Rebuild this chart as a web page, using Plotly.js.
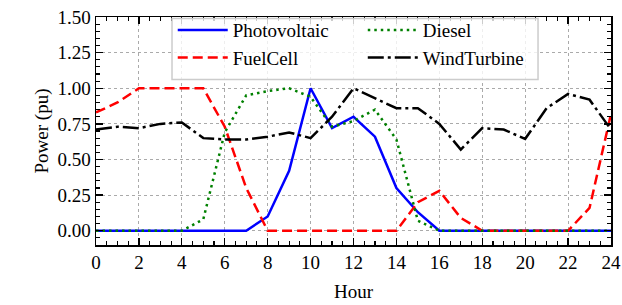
<!DOCTYPE html>
<html>
<head>
<meta charset="utf-8">
<script src="https://cdn.plot.ly/plotly-3.0.1.min.js"></script>
<style>html,body{margin:0;padding:0;background:#fff;}#chart{width:622px;height:305px;}</style>
</head>
<body>
<div id="chart"></div>
<script>
const hours = [0,1,2,3,4,5,6,7,8,9,10,11,12,13,14,15,16,17,18,19,20,21,22,23,24];
const photovoltaic = [0,0,0,0,0,0,0,0,0.1,0.42,1.0,0.72,0.8,0.66,0.3,0.13,0,0,0,0,0,0,0,0,0];
const fuelCell = [0.83,0.9,1.0,1.0,1.0,1.0,0.73,0.3,0,0,0,0,0,0,0,0.2,0.28,0.09,0,0,0,0,0,0.16,0.82];
const diesel = [0,0,0,0,0,0.08,0.69,0.95,0.98,1.0,0.94,0.73,0.77,0.85,0.64,0.07,0,0,0,0,0,0,0,0,0];
const windTurbine = [0.71,0.73,0.72,0.75,0.76,0.65,0.64,0.64,0.66,0.69,0.65,0.8,1.0,0.93,0.86,0.86,0.75,0.57,0.72,0.71,0.645,0.86,0.96,0.92,0.71];

const font = {family: 'Liberation Serif, serif', size: 19, color: '#000'};

const traces = [
  {x: hours, y: photovoltaic, name: 'Photovoltaic', mode: 'lines', legend: 'legend',
   line: {color: '#0000ff', width: 2.5}},
  {x: hours, y: fuelCell, name: 'FuelCell', mode: 'lines', legend: 'legend',
   line: {color: '#ff0000', width: 2.5, dash: '10px,5px'}},
  {x: hours, y: diesel, name: 'Diesel', mode: 'lines', legend: 'legend2',
   line: {color: '#008000', width: 2.5, dash: '2.5px,4px'}},
  {x: hours, y: windTurbine, name: 'WindTurbine', mode: 'lines', legend: 'legend2',
   line: {color: '#000000', width: 2.5, dash: '16px,4px,3px,4px'}}
];

const axisCommon = {
  showline: true, linecolor: '#000', linewidth: 1.5, mirror: 'allticks',
  ticks: 'inside', ticklen: 7, tickwidth: 1.3, tickcolor: '#000',
  showgrid: true, gridcolor: '#aaaaaa', gridwidth: 1, griddash: 'dot',
  zeroline: false, tickfont: font
};

const legendCommon = {
  orientation: 'v', y: 1.026, xanchor: 'left', yanchor: 'top',
  bgcolor: 'rgba(0,0,0,0)', borderwidth: 0, font: font, itemwidth: 50,
  traceorder: 'normal'
};

const layout = {
  width: 622, height: 305,
  margin: {l: 96, r: 11, t: 15, b: 60},
  paper_bgcolor: '#fff', plot_bgcolor: '#fff',
  font: font,
  showlegend: true,
  legend: Object.assign({}, legendCommon, {x: 0.149}),
  legend2: Object.assign({}, legendCommon, {x: 0.518}),
  shapes: [{
    type: 'rect', xref: 'paper', yref: 'paper', x0: 0.1476, x1: 0.8583, y0: 0.726, y1: 0.9935,
    fillcolor: 'rgba(255,255,255,0.8)', line: {color: '#cccccc', width: 1.5}, layer: 'above'
  }],
  xaxis: Object.assign({}, axisCommon, {
    range: [0, 24], tickmode: 'linear', tick0: 0, dtick: 2,
    minor: {ticks: 'inside', dtick: 0.5, ticklen: 4, tickwidth: 1.1, tickcolor: '#000', showgrid: false},
    title: {text: 'Hour', font: font, standoff: 12}
  }),
  yaxis: Object.assign({}, axisCommon, {
    range: [-0.1, 1.5], tickmode: 'linear', tick0: 0, dtick: 0.25, tickformat: '.2f',
    minor: {ticks: 'inside', dtick: 0.05, tick0: 0, ticklen: 4, tickwidth: 1.1, tickcolor: '#000', showgrid: false},
    title: {text: 'Power (pu)', font: font, standoff: 4}
  })
};

Plotly.newPlot('chart', traces, layout, {staticPlot: true, displayModeBar: false});
</script>
</body>
</html>
